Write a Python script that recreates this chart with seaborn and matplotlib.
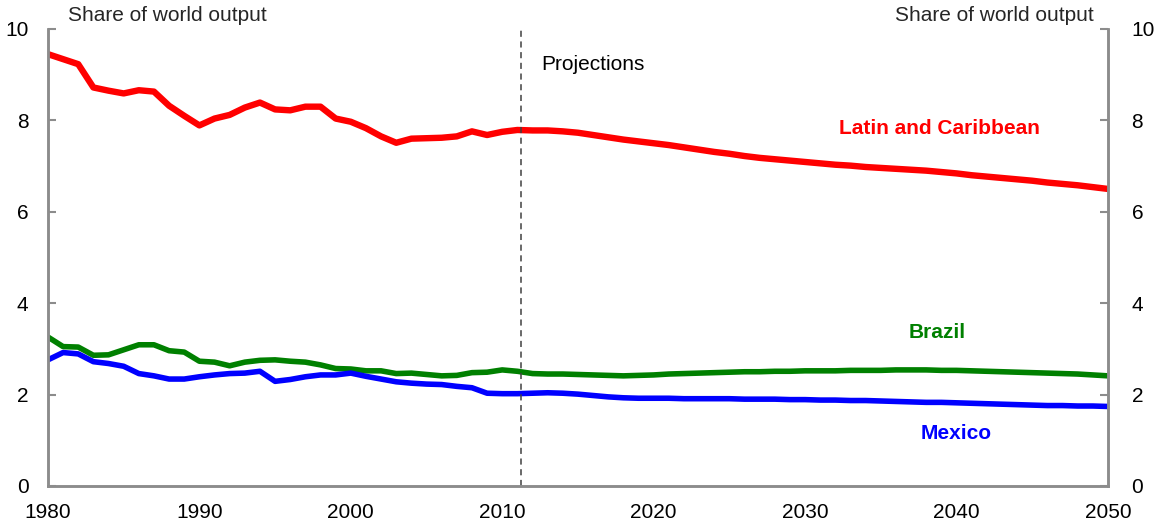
import numpy as np
import pandas as pd
import matplotlib
matplotlib.use("Agg")
import matplotlib.pyplot as plt
import seaborn as sns

# --- data (share of world output, %) ---
years = list(range(1980, 2051))

latin_caribbean = [
    9.45, 9.34, 9.23, 8.72, 8.65, 8.59, 8.66, 8.63, 8.32, 8.10,
    7.89, 8.04, 8.12, 8.28, 8.39, 8.24, 8.22, 8.30, 8.30, 8.04,
    7.97, 7.83, 7.65, 7.51, 7.60, 7.61, 7.62, 7.65, 7.76, 7.68,
    7.75, 7.79, 7.78, 7.78, 7.76, 7.73, 7.68, 7.63, 7.58, 7.54,
    7.50, 7.46, 7.41, 7.36, 7.31, 7.27, 7.22, 7.18, 7.15, 7.12,
    7.09, 7.06, 7.03, 7.01, 6.98, 6.96, 6.94, 6.92, 6.90, 6.87,
    6.84, 6.80, 6.77, 6.74, 6.71, 6.68, 6.64, 6.61, 6.58, 6.54,
    6.50,
]

brazil = [
    3.26, 3.05, 3.04, 2.86, 2.87, 2.98, 3.09, 3.09, 2.96, 2.93,
    2.73, 2.71, 2.63, 2.71, 2.75, 2.76, 2.73, 2.71, 2.65, 2.57,
    2.56, 2.52, 2.52, 2.46, 2.47, 2.44, 2.41, 2.42, 2.48, 2.49,
    2.54, 2.51, 2.46, 2.45, 2.45, 2.44, 2.43, 2.42, 2.41, 2.42,
    2.43, 2.45, 2.46, 2.47, 2.48, 2.49, 2.50, 2.50, 2.51, 2.51,
    2.52, 2.52, 2.52, 2.53, 2.53, 2.53, 2.54, 2.54, 2.54, 2.53,
    2.53, 2.52, 2.51, 2.50, 2.49, 2.48, 2.47, 2.46, 2.45, 2.43,
    2.41,
]

mexico = [
    2.76, 2.92, 2.89, 2.72, 2.68, 2.62, 2.46, 2.41, 2.34, 2.34,
    2.39, 2.43, 2.46, 2.47, 2.51, 2.29, 2.33, 2.39, 2.43, 2.43,
    2.47, 2.40, 2.34, 2.28, 2.25, 2.23, 2.22, 2.18, 2.15, 2.03,
    2.02, 2.02, 2.03, 2.04, 2.03, 2.01, 1.98, 1.95, 1.93, 1.92,
    1.92, 1.92, 1.91, 1.91, 1.91, 1.91, 1.90, 1.90, 1.90, 1.89,
    1.89, 1.88, 1.88, 1.87, 1.87, 1.86, 1.85, 1.84, 1.83, 1.83,
    1.82, 1.81, 1.80, 1.79, 1.78, 1.77, 1.76, 1.76, 1.75, 1.75,
    1.74,
]

series_names = ["Latin and Caribbean", "Brazil", "Mexico"]
series_colors = {"Latin and Caribbean": "#ff0000", "Brazil": "#008000", "Mexico": "#0000ff"}
series_widths = {"Latin and Caribbean": 4.6, "Brazil": 4.0, "Mexico": 4.0}
# label anchor points (year, value) for the in-chart series labels
label_pos = {"Latin and Caribbean": (2038.9, 7.83), "Brazil": (2038.7, 3.35), "Mexico": (2040.0, 1.14)}

projection_start = 2011.25
x_ticks = list(range(1980, 2051, 10))
y_ticks = [0, 2, 4, 6, 8, 10]

df = pd.DataFrame({"year": years,
                   "Latin and Caribbean": latin_caribbean,
                   "Brazil": brazil,
                   "Mexico": mexico})
long_df = df.melt(id_vars="year", var_name="series", value_name="share")

# --- style ---
sns.set_style("white")
plt.rcParams["font.family"] = ["Liberation Sans", "DejaVu Sans"]
axis_grey = "#8c8c8c"
fs = 15

fig = plt.figure(figsize=(11.61, 5.25), dpi=100)
ax = fig.add_axes([0.0413, 0.0743, 0.913, 0.8705])

for name in series_names:
    sub = long_df[long_df["series"] == name]
    sns.lineplot(data=sub, x="year", y="share", ax=ax, color=series_colors[name],
                 linewidth=series_widths[name], legend=False, solid_capstyle="butt")

ax.axvline(projection_start, color="#404040", linestyle=(0, (4, 3)), linewidth=1.1)
ax.text(2012.6, 9.23, "Projections", fontsize=fs, ha="left", va="center", color="black")

for name in series_names:
    lx, ly = label_pos[name]
    ax.text(lx, ly, name, color=series_colors[name], fontsize=fs, fontweight="bold",
            ha="center", va="center")

ax.set_xlim(1980, 2050)
ax.set_ylim(0, 10)
ax.set_xticks(x_ticks)
ax.set_yticks(y_ticks)
ax.set_xlabel("")
ax.set_ylabel("")

ax2 = ax.twinx()
ax2.set_ylim(0, 10)
ax2.set_yticks(y_ticks)

for a in (ax, ax2):
    a.spines["top"].set_visible(False)
    for side in ("left", "right", "bottom"):
        a.spines[side].set_color(axis_grey)
        a.spines[side].set_linewidth(1.8)
    a.tick_params(direction="in", length=6, width=1.5, color=axis_grey,
                  labelsize=fs, labelcolor="black")
ax.tick_params(axis="y", pad=14)
ax.tick_params(axis="x", pad=12)
ax2.tick_params(axis="y", pad=17)

fig.text(0.0585, 0.97, "Share of world output", fontsize=fs, ha="left", va="center")
fig.text(0.942, 0.97, "Share of world output", fontsize=fs, ha="right", va="center")

fig.savefig("out.png", dpi=100)
